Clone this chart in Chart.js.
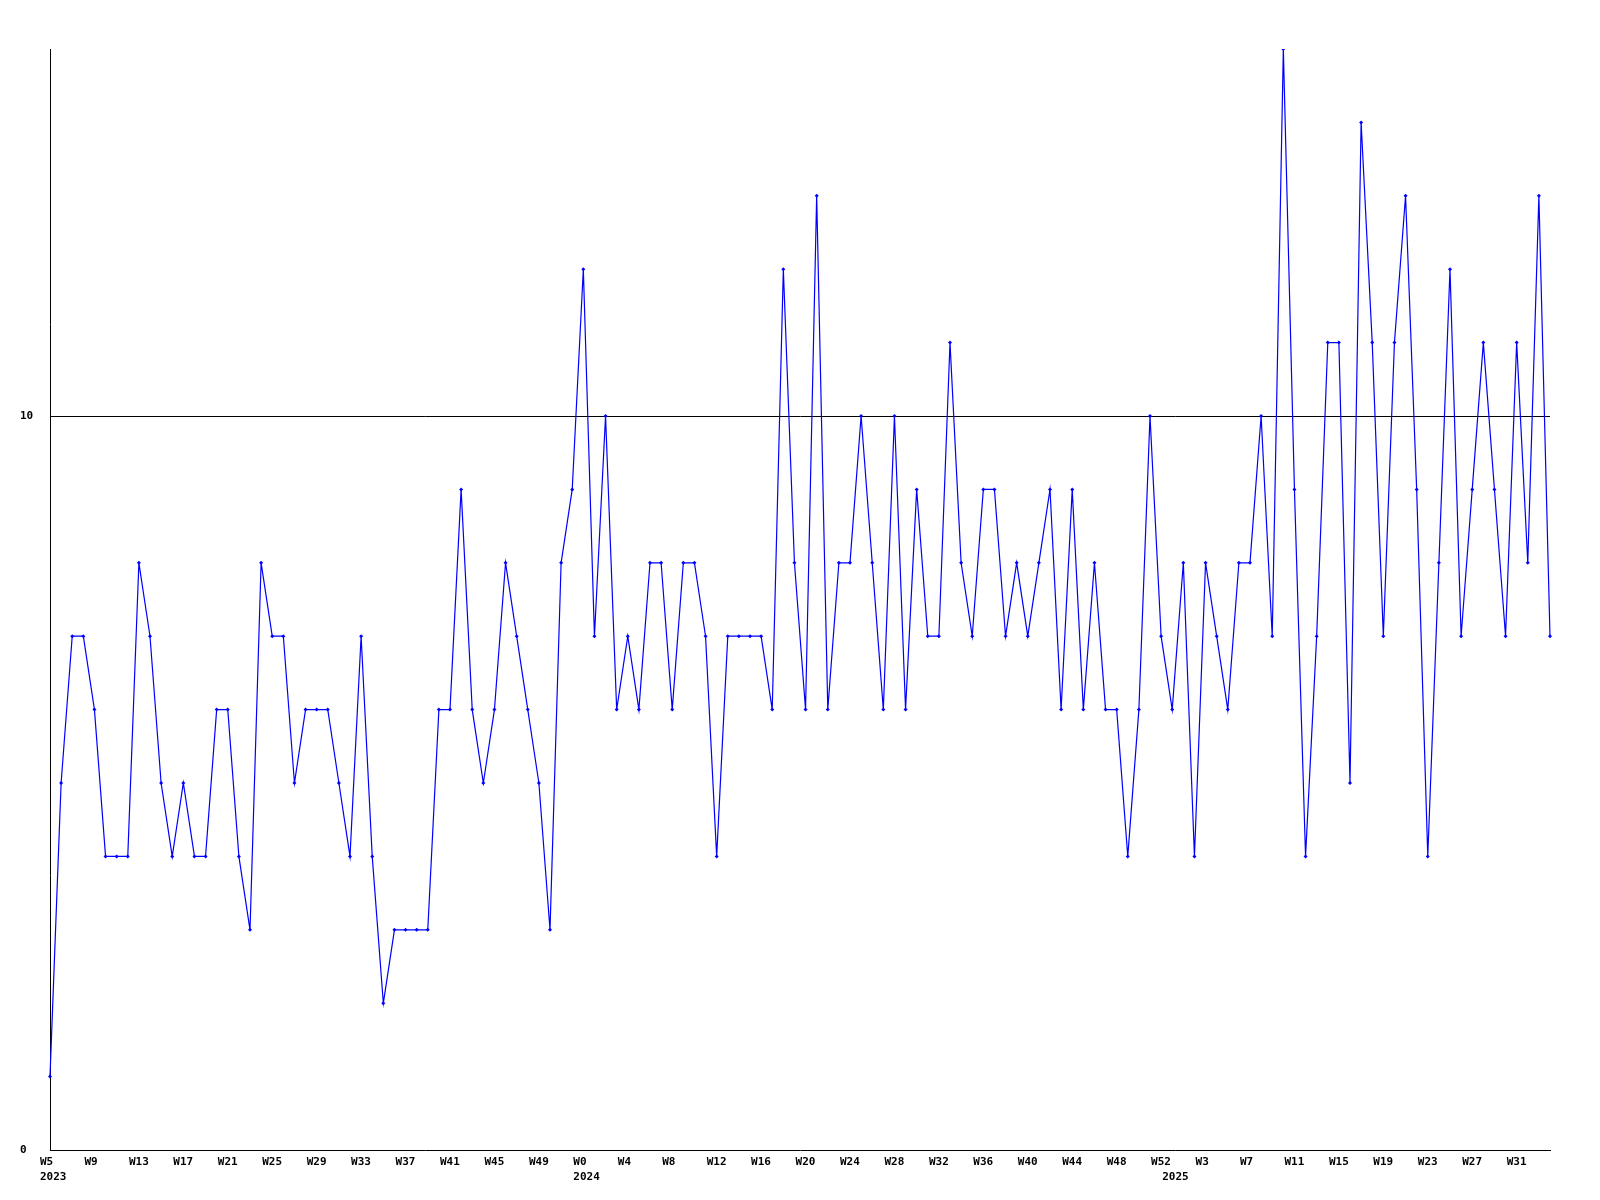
<!DOCTYPE html>
<html>
<head>
<meta charset="utf-8">
<title>Weekly count</title>
<script src="https://cdn.jsdelivr.net/npm/chart.js@4.4.1/dist/chart.umd.min.js"></script>
<style>
  body { margin: 0; background: #fff; }
  canvas { display: block; }
</style>
</head>
<body>
<canvas id="myChart" width="1600" height="1200"></canvas>
<script>
// weeks covered: [year, first week, last week]
const yearRanges = [[2023, 5, 52], [2024, 0, 52], [2025, 0, 34]];

// one value per week
const values2023 = [1, 5, 7, 7, 6, 4, 4, 4, 8, 7, 5, 4, 5, 4, 4, 6, 6, 4, 3, 8, 7, 7, 5,
                    6, 6, 6, 5, 4, 7, 4, 2, 3, 3, 3, 3, 6, 6, 9, 6, 5, 6, 8, 7, 6, 5, 3, 8, 9];
const values2024 = [12, 7, 10, 6, 7, 6, 8, 8, 6, 8, 8, 7, 4, 7, 7, 7, 7, 6, 12, 8, 6, 13, 6,
                    8, 8, 10, 8, 6, 10, 6, 9, 7, 7, 11, 8, 7, 9, 9, 7, 8, 7, 8, 9, 6, 9, 6,
                    8, 6, 6, 4, 6, 10, 7];
const values2025 = [6, 8, 4, 8, 7, 6, 8, 8, 10, 7, 15, 9, 4, 7, 11, 11, 5, 14, 11, 7, 11,
                    13, 9, 4, 8, 12, 7, 9, 11, 9, 7, 11, 8, 13, 7];

const yTicks = [0, 10];
const weekLabelEvery = 4;

const labels = [];
const yearStart = {};
yearRanges.forEach(function(r) {
    yearStart[labels.length] = String(r[0]);
    for (let w = r[1]; w <= r[2]; w++) {
        labels.push('W' + w);
    }
});
const values = values2023.concat(values2024, values2025);

const data = {
    labels: labels,
    datasets: [{
        data: values,
        borderColor: '#0000ff',
        backgroundColor: '#0000ff',
        borderWidth: 1.2,
        tension: 0,
        pointStyle: 'rectRot',
        pointRadius: 2,
        pointBorderWidth: 0,
        pointBackgroundColor: '#0000ff'
    }]
};

const bgColor = {
    id: 'bgColor',
    beforeDraw: (chart) => {
        const {ctx, width, height} = chart;
        ctx.save();
        ctx.fillStyle = 'white';
        ctx.fillRect(0, 0, width, height);
        ctx.restore();
    }
};

const tickFont = { family: "'DejaVu Sans Mono', monospace", size: 11, weight: 'bold', lineHeight: 1.4 };

const config = {
    type: 'line',
    data,
    options: {
        responsive: false,
        animation: false,
        layout: { padding: { left: 20, right: 50, top: 49, bottom: 0 } },
        plugins: { legend: { display: false }, tooltip: { enabled: false } },
        scales: {
            x: {
                offset: false,
                grid: { color: 'transparent', drawTicks: false },
                border: { display: true, color: '#000', width: 1 },
                afterFit: (scale) => { scale.height = 50; },
                ticks: {
                    autoSkip: false,
                    maxRotation: 0,
                    minRotation: 0,
                    padding: 4,
                    align: 'start',
                    labelOffset: -10,
                    color: '#000',
                    font: tickFont,
                    callback: function(value, index) {
                        const week = index % weekLabelEvery === 0 ? labels[index] : '';
                        const year = yearStart[index] || '';
                        if (!week && !year) return '';
                        return year ? [week, year] : week;
                    }
                }
            },
            y: {
                min: 0,
                max: 15,
                afterFit: (scale) => { scale.width = 30; },
                afterBuildTicks: (scale) => {
                    scale.ticks = yTicks.map(v => ({ value: v }));
                },
                grid: {
                    drawTicks: false,
                    color: (ctx) => ctx.tick && ctx.tick.value === 10 ? '#000' : 'transparent'
                },
                border: { display: true, color: '#000', width: 1 },
                ticks: {
                    crossAlign: 'far',
                    color: '#000',
                    font: tickFont
                }
            }
        }
    },
    plugins: [bgColor]
};

const myChart = new Chart(document.getElementById('myChart'), config);
</script>
</body>
</html>
